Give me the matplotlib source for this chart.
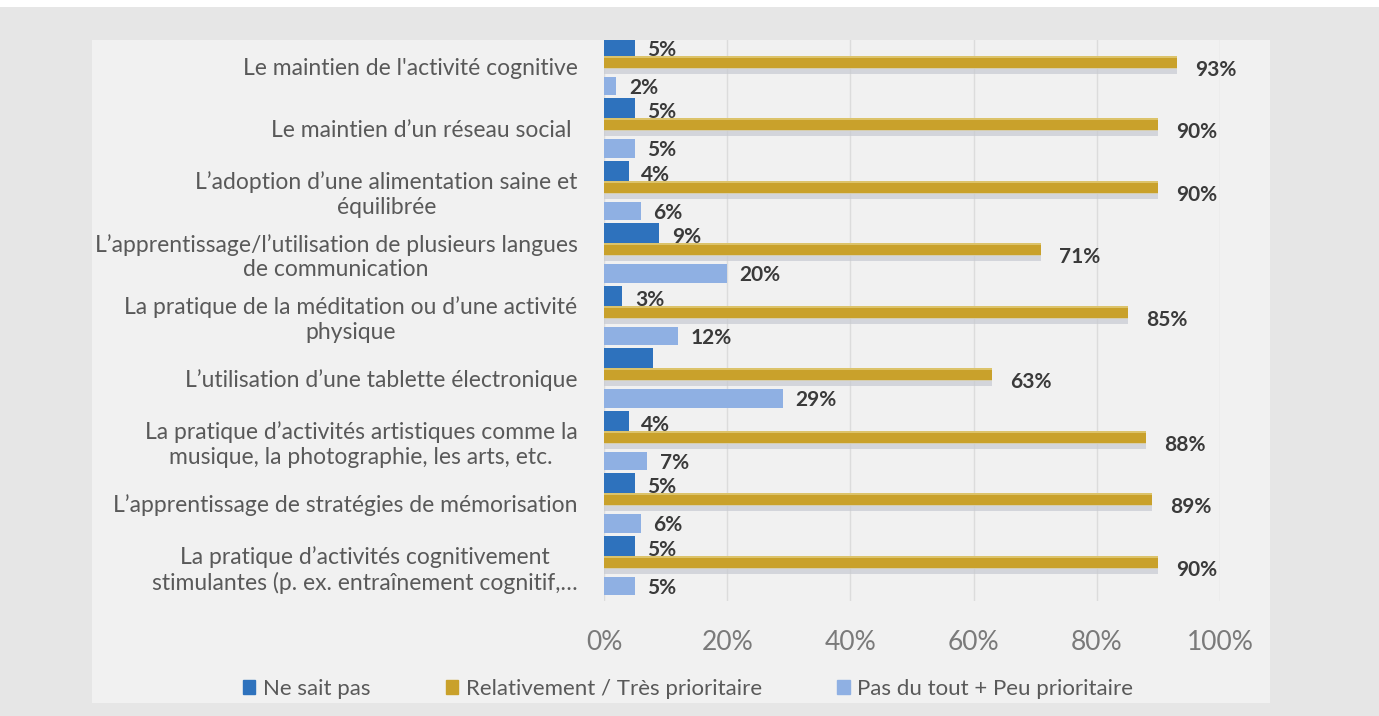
import numpy as np
import matplotlib
matplotlib.use("Agg")
import matplotlib.pyplot as plt
from matplotlib.patches import Rectangle, Patch
from matplotlib.ticker import PercentFormatter

plt.rcParams['font.family'] = ['Lato', 'DejaVu Sans']

categories = [
    "Le maintien de l'activité cognitive",
    "Le maintien d’un réseau social ",
    "L’adoption d’une alimentation saine et\néquilibrée",
    "L’apprentissage/l’utilisation de plusieurs langues\nde communication",
    "La pratique de la méditation ou d’une activité\nphysique",
    "L’utilisation d’une tablette électronique",
    "La pratique d’activités artistiques comme la\nmusique, la photographie, les arts, etc.",
    "L’apprentissage de stratégies de mémorisation",
    "La pratique d’activités cognitivement\nstimulantes (p. ex. entraînement cognitif,…",
]
ne_sait_pas = [5, 5, 4, 9, 3, 8, 4, 5, 5]
ne_sait_pas_affiche = [True, True, True, True, True, False, True, True, True]
prioritaire = [93, 90, 90, 71, 85, 63, 88, 89, 90]
peu_prioritaire = [2, 5, 6, 20, 12, 29, 7, 6, 5]
series_names = ["Ne sait pas", "Relativement / Très prioritaire", "Pas du tout + Peu prioritaire"]

c_dark = '#2e72bd'
c_gold = '#c9a12b'
c_light = '#8fb0e3'
c_text = '#3a3a3a'

W, H = 1379, 716
fig = plt.figure(figsize=(W / 100, H / 100), dpi=100, facecolor='#e6e6e6')
fig.patches.append(Rectangle((0, 1 - 7 / H), 1, 7 / H, transform=fig.transFigure,
                             facecolor='white', edgecolor='none', zorder=-2))
panel = Rectangle((92 / W, 13 / H), (1270 - 92) / W, (703 - 40) / H, transform=fig.transFigure,
                  facecolor='#f1f1f1', edgecolor='none', zorder=-1)
fig.patches.append(panel)

ax = fig.add_axes([604 / W, 1 - 601 / H, 616 / W, 561 / H])
ax.set_facecolor('none')
y = np.arange(len(categories))

ax.barh(y - 0.328, ne_sait_pas, height=0.32, color=c_dark, zorder=3)
# gold bars with a soft shadow underneath
ax.barh(y + 0.06, prioritaire, height=0.12, color='#c7cad2', alpha=0.7, zorder=2)
ax.barh(y + 0.015, prioritaire, height=0.06, color='#d8cda5', alpha=0.8, zorder=2)
ax.barh(y - 0.07, prioritaire, height=0.19, color=c_gold, zorder=3)
ax.barh(y - 0.15, prioritaire, height=0.03, color='#dcc36a', zorder=3)
ax.barh(y + 0.32, peu_prioritaire, height=0.30, color=c_light, zorder=3)

lab = dict(va='center', ha='left', fontsize=15, fontweight='bold', color=c_text,
           textcoords='offset points', zorder=4)
for i in range(len(categories)):
    if ne_sait_pas_affiche[i]:
        ax.annotate(f"{ne_sait_pas[i]}%", xy=(ne_sait_pas[i], y[i] - 0.26), xytext=(9, 0), **lab)
    ax.annotate(f"{prioritaire[i]}%", xy=(prioritaire[i], y[i] + 0.06), xytext=(13, 0), **lab)
    ax.annotate(f"{peu_prioritaire[i]}%", xy=(peu_prioritaire[i], y[i] + 0.35), xytext=(9, 0), **lab)

ax.set_xlim(0, 100)
ax.set_ylim(8.56, -0.416)
ax.set_xticks(np.arange(0, 101, 20))
ax.xaxis.set_major_formatter(PercentFormatter(100, decimals=0))
ax.grid(axis='x', color='#dcdcdc', linewidth=1, zorder=0)
for s in ax.spines.values():
    s.set_visible(False)
ax.tick_params(axis='x', length=0, pad=21, labelsize=19, labelcolor='#7a7a7a')
ax.tick_params(axis='y', length=0, pad=19)

ax.set_yticks(y)
ax.set_yticklabels(categories, fontsize=16.5, color='#595959', multialignment='center',
                   linespacing=1.2)
for t in ax.get_yticklabels():
    t.set_clip_path(panel)
    t.set_clip_on(True)

handles = [Patch(color=c_dark), Patch(color=c_gold), Patch(color=c_light)]
fig.legend(handles, series_names, loc='center', bbox_to_anchor=(688 / W, 1 - 689 / H), ncol=3,
           frameon=False, fontsize=16, labelcolor='#595959', handlelength=0.55,
           handleheight=0.55, handletextpad=0.35, columnspacing=3.4)

fig.savefig('out.png', dpi=100, facecolor=fig.get_facecolor())
